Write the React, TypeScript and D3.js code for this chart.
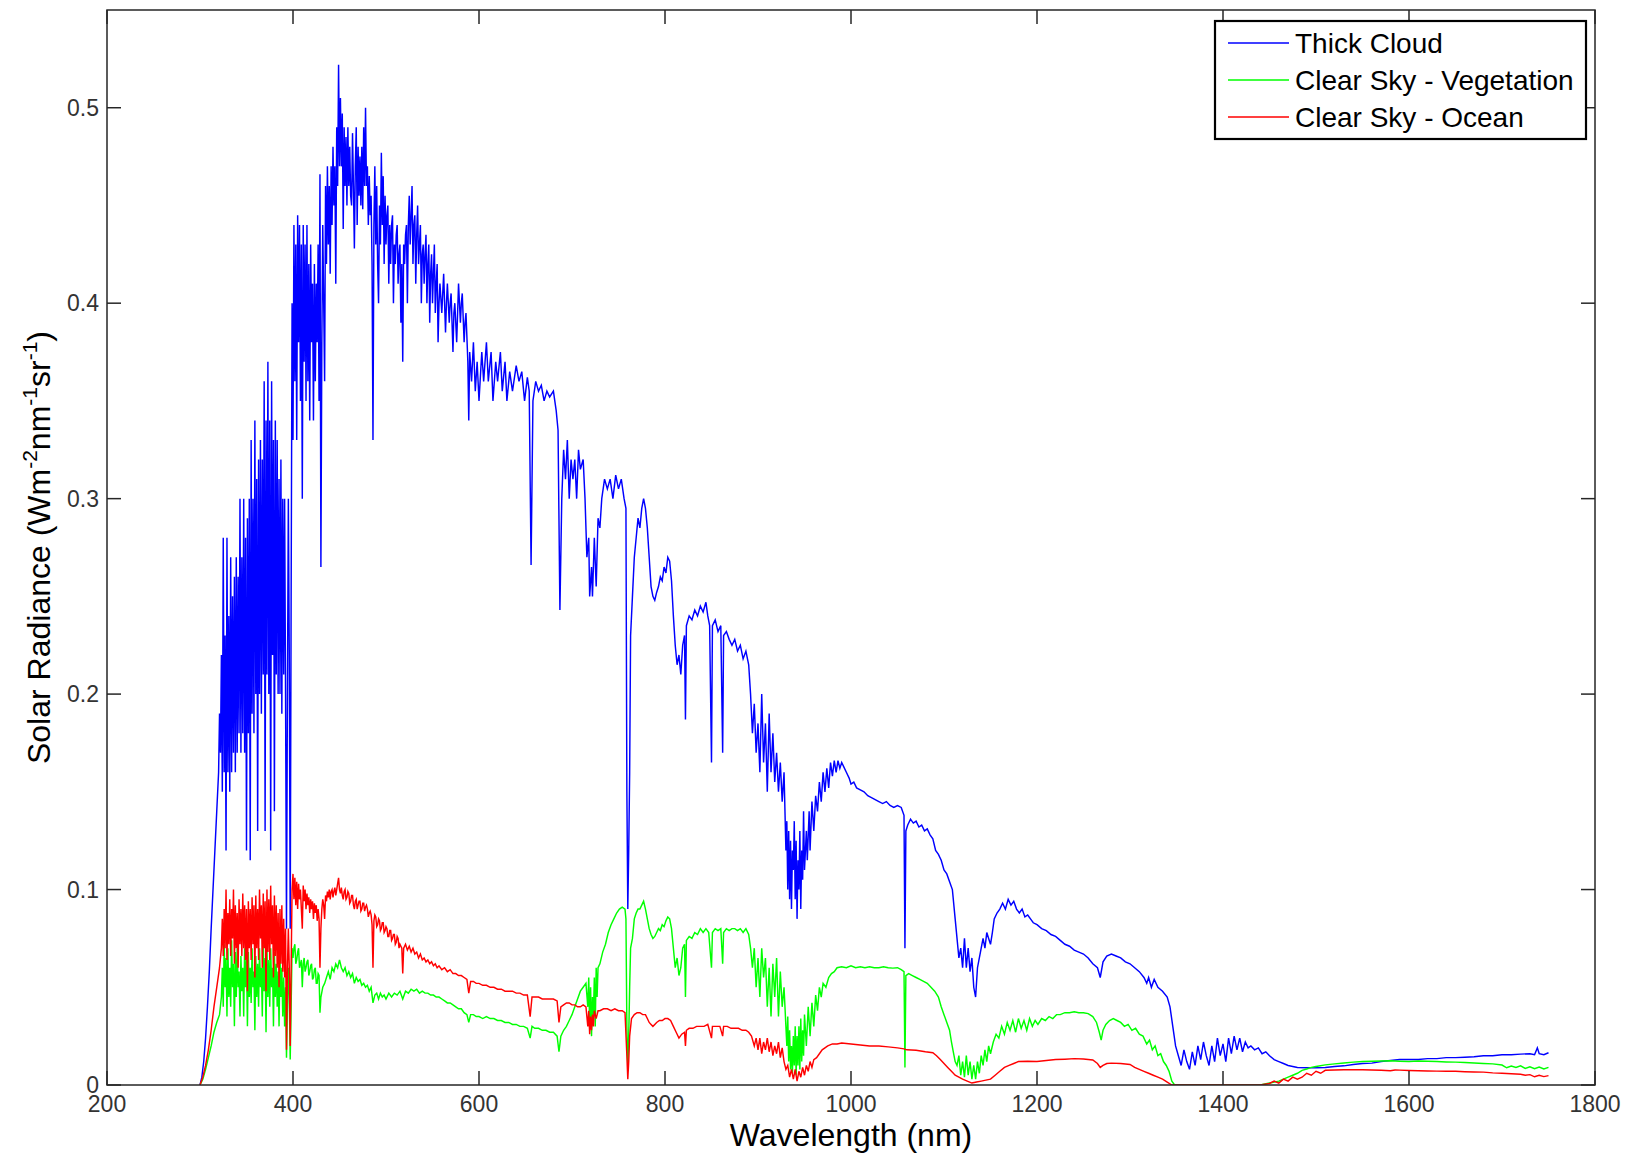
import * as d3 from 'd3';

// [wavelength nm, radiance W m^-2 nm^-1 sr^-1]
const thickCloud: [number, number][] = [
  [300, 0], [302, 0.004], [304, 0.012], [306, 0.024], [308, 0.04], [310, 0.058], [312, 0.08], [314, 0.1],
  [316, 0.12], [318, 0.14], [320, 0.16], [321, 0.19], [322, 0.17],
  [323, 0.22], [324, 0.15], [325, 0.28], [326, 0.16], [327, 0.23], [328, 0.12], [329, 0.28], [330, 0.16],
  [331, 0.24], [332, 0.15], [333, 0.27], [334, 0.16], [335, 0.25], [336, 0.17], [337, 0.26], [338, 0.16],
  [339, 0.27], [340, 0.17], [341, 0.26], [342, 0.18], [343, 0.3], [344, 0.17], [345, 0.27], [346, 0.18],
  [347, 0.3], [348, 0.17], [349, 0.28], [350, 0.12], [351, 0.29], [352, 0.18], [353, 0.3], [354, 0.115],
  [355, 0.33], [356, 0.19], [357, 0.3], [358, 0.18], [359, 0.34], [360, 0.2], [361, 0.31], [362, 0.13],
  [363, 0.32], [364, 0.2], [365, 0.33], [366, 0.19], [367, 0.32], [368, 0.21], [369, 0.36], [370, 0.13],
  [371, 0.34], [372, 0.21], [373, 0.37], [374, 0.2], [375, 0.34], [376, 0.12], [377, 0.36], [378, 0.22],
  [379, 0.33], [380, 0.14], [381, 0.34], [382, 0.21], [383, 0.33], [384, 0.2], [385, 0.31], [386, 0.2],
  [387, 0.32], [388, 0.19], [389, 0.3], [390, 0.21], [391, 0.3], [392, 0.2], [393, 0.08], [394, 0.2],
  [395, 0.3], [396, 0.22], [397, 0.08], [398, 0.25], [399, 0.4], [400, 0.33], [401, 0.44], [402, 0.36],
  [403, 0.43], [404, 0.33], [405, 0.445], [406, 0.38], [407, 0.44], [408, 0.35], [409, 0.43], [410, 0.3],
  [411, 0.44], [412, 0.37], [413, 0.43], [414, 0.35], [415, 0.44], [416, 0.36], [417, 0.42], [418, 0.34],
  [419, 0.43], [420, 0.38], [421, 0.41], [422, 0.34], [423, 0.42], [424, 0.36], [425, 0.41], [426, 0.38],
  [427, 0.43], [428, 0.35], [429, 0.466], [430, 0.265], [431, 0.38], [432, 0.44], [433, 0.4], [434, 0.36],
  [435, 0.46], [436, 0.42], [437, 0.47], [438, 0.43], [439, 0.46], [440, 0.415], [441, 0.47], [442, 0.44],
  [443, 0.48], [444, 0.45], [445, 0.47], [446, 0.41], [447, 0.49], [448, 0.46], [449, 0.522], [450, 0.47],
  [451, 0.505], [452, 0.47], [453, 0.497], [454, 0.438], [455, 0.49], [456, 0.46], [457, 0.485], [458, 0.45],
  [459, 0.49], [460, 0.46], [461, 0.48], [462, 0.455], [463, 0.45], [464, 0.487], [465, 0.46], [466, 0.428],
  [467, 0.47], [468, 0.49], [469, 0.44], [470, 0.48], [471, 0.455], [472, 0.475], [473, 0.45], [474, 0.48],
  [475, 0.448], [476, 0.49], [477, 0.46], [478, 0.5], [479, 0.46], [480, 0.47], [481, 0.44], [482, 0.465],
  [483, 0.445], [484, 0.455], [485, 0.42], [486, 0.33], [487, 0.44], [488, 0.47], [489, 0.43], [490, 0.46],
  [491, 0.42], [492, 0.4], [493, 0.45], [494, 0.43], [495, 0.477], [496, 0.44], [497, 0.465], [498, 0.42],
  [499, 0.455], [500, 0.43], [501, 0.445], [502, 0.45], [503, 0.41], [504, 0.44], [505, 0.42], [506, 0.44],
  [507, 0.445], [508, 0.4], [509, 0.43], [510, 0.42], [511, 0.435], [512, 0.44], [513, 0.41], [514, 0.425],
  [515, 0.43], [516, 0.39], [517, 0.42], [518, 0.37], [519, 0.43], [520, 0.42], [521, 0.435], [522, 0.44],
  [523, 0.4], [524, 0.44], [525, 0.455], [526, 0.43], [527, 0.445], [528, 0.46], [529, 0.42], [530, 0.44],
  [531, 0.445], [532, 0.41], [533, 0.435], [534, 0.45], [535, 0.42], [536, 0.43], [537, 0.44], [538, 0.4],
  [539, 0.425], [540, 0.43], [541, 0.41], [542, 0.425], [543, 0.435], [544, 0.4], [545, 0.42], [546, 0.43],
  [547, 0.39], [548, 0.415], [549, 0.425], [550, 0.4], [551, 0.415], [552, 0.43], [553, 0.395], [554, 0.41],
  [555, 0.42], [556, 0.38], [557, 0.4], [558, 0.41], [560, 0.395], [561, 0.405], [562, 0.415], [564, 0.385],
  [565, 0.4], [566, 0.41], [568, 0.39], [569, 0.4], [570, 0.405], [572, 0.375], [573, 0.395], [574, 0.4],
  [576, 0.38], [577, 0.395], [578, 0.41], [580, 0.39], [581, 0.4], [582, 0.405], [584, 0.38], [585, 0.39],
  [586, 0.395], [588, 0.37], [589, 0.34], [590, 0.375], [592, 0.36], [594, 0.38], [596, 0.355], [598, 0.37],
  [600, 0.35], [603, 0.375], [605, 0.36], [608, 0.38], [610, 0.36], [613, 0.375], [615, 0.35], [618, 0.37],
  [620, 0.36], [623, 0.375], [625, 0.355], [628, 0.37], [630, 0.35], [633, 0.365], [636, 0.355], [640, 0.368],
  [643, 0.36], [646, 0.365], [649, 0.35], [652, 0.362], [654, 0.355], [656, 0.266], [658, 0.35], [661, 0.36],
  [664, 0.355], [667, 0.358], [670, 0.35], [673, 0.355], [676, 0.352], [680, 0.355], [683, 0.345], [685, 0.335],
  [687, 0.243], [689, 0.3], [691, 0.325], [693, 0.31], [695, 0.33], [697, 0.3], [699, 0.32], [701, 0.31],
  [703, 0.32], [705, 0.3], [707, 0.325], [709, 0.315], [712, 0.32], [714, 0.3], [716, 0.27], [718, 0.28],
  [719, 0.25], [721, 0.265], [722, 0.25], [724, 0.28], [726, 0.255], [728, 0.29], [730, 0.285], [732, 0.3],
  [735, 0.31], [738, 0.305], [741, 0.31], [744, 0.3], [747, 0.312], [750, 0.305], [753, 0.31], [756, 0.3],
  [758, 0.295], [759, 0.15], [760, 0.09], [761, 0.12], [762, 0.16], [763, 0.23], [765, 0.25], [767, 0.27],
  [769, 0.28], [771, 0.29], [773, 0.285], [775, 0.295], [777, 0.3], [779, 0.295], [781, 0.285], [783, 0.27],
  [785, 0.255], [787, 0.25], [789, 0.248], [791, 0.252], [793, 0.255], [795, 0.26], [797, 0.258], [799, 0.265],
  [801, 0.262], [803, 0.27], [805, 0.268], [807, 0.258], [809, 0.24], [811, 0.225], [813, 0.215], [815, 0.22],
  [817, 0.21], [819, 0.225], [821, 0.23], [822, 0.187], [823, 0.235], [826, 0.24], [829, 0.238], [832, 0.243],
  [835, 0.24], [838, 0.245], [841, 0.242], [844, 0.247], [846, 0.24], [848, 0.235], [850, 0.165], [851, 0.235],
  [854, 0.238], [857, 0.232], [860, 0.235], [862, 0.17], [863, 0.23], [866, 0.232], [869, 0.228], [872, 0.225],
  [875, 0.228], [878, 0.222], [881, 0.225], [884, 0.218], [887, 0.222], [890, 0.215], [892, 0.2], [894, 0.18],
  [896, 0.195], [898, 0.17], [900, 0.185], [902, 0.16], [904, 0.2], [906, 0.165], [908, 0.185], [910, 0.15],
  [912, 0.19], [914, 0.16], [916, 0.18], [918, 0.155], [920, 0.17], [922, 0.15], [924, 0.165], [926, 0.145],
  [928, 0.16], [930, 0.12], [931, 0.135], [932, 0.1], [933, 0.13], [934, 0.095], [935, 0.125], [936, 0.09],
  [937, 0.12], [938, 0.11], [939, 0.135], [940, 0.095], [941, 0.125], [942, 0.085], [943, 0.115], [944, 0.1],
  [945, 0.13], [946, 0.09], [947, 0.12], [948, 0.105], [949, 0.14], [950, 0.11], [952, 0.13], [953, 0.115],
  [955, 0.14], [956, 0.12], [958, 0.145], [960, 0.13], [962, 0.148], [964, 0.14], [966, 0.155], [968, 0.145],
  [970, 0.16], [972, 0.15], [974, 0.162], [976, 0.152], [978, 0.165], [980, 0.158], [982, 0.166], [984, 0.16],
  [986, 0.166], [988, 0.162], [990, 0.165], [992, 0.163], [995, 0.16], [998, 0.157], [1000, 0.154],
  [1003, 0.155], [1006, 0.152], [1010, 0.151], [1014, 0.15], [1018, 0.148], [1022, 0.147], [1026, 0.146],
  [1030, 0.145], [1034, 0.144], [1038, 0.145], [1042, 0.143], [1046, 0.142], [1050, 0.143], [1054, 0.142],
  [1057, 0.138], [1058, 0.07], [1059, 0.13], [1061, 0.133], [1064, 0.136], [1067, 0.134], [1070, 0.135],
  [1073, 0.132], [1076, 0.133], [1079, 0.13], [1082, 0.131], [1085, 0.128], [1088, 0.126], [1091, 0.12],
  [1094, 0.118], [1097, 0.115], [1100, 0.11], [1103, 0.108], [1106, 0.104], [1109, 0.1], [1112, 0.085],
  [1114, 0.075], [1116, 0.065], [1118, 0.07], [1120, 0.06], [1122, 0.075], [1124, 0.06], [1126, 0.07],
  [1128, 0.058], [1130, 0.065], [1132, 0.05], [1134, 0.045], [1136, 0.06], [1138, 0.065], [1140, 0.07],
  [1142, 0.075], [1144, 0.07], [1146, 0.078], [1148, 0.075], [1150, 0.072], [1152, 0.078], [1154, 0.085],
  [1157, 0.088], [1160, 0.09], [1163, 0.093], [1166, 0.09], [1169, 0.095], [1172, 0.092], [1175, 0.094],
  [1178, 0.09], [1181, 0.088], [1184, 0.09], [1187, 0.086], [1190, 0.087], [1193, 0.085], [1196, 0.083],
  [1200, 0.082], [1205, 0.08], [1210, 0.079], [1215, 0.077], [1220, 0.076], [1225, 0.074], [1230, 0.072],
  [1235, 0.071], [1240, 0.069], [1245, 0.068], [1250, 0.067], [1255, 0.065], [1260, 0.062], [1265, 0.06],
  [1268, 0.055], [1271, 0.063], [1275, 0.066], [1280, 0.067], [1285, 0.066], [1290, 0.065], [1295, 0.063],
  [1300, 0.062], [1305, 0.06], [1310, 0.058], [1315, 0.055], [1318, 0.052], [1320, 0.055], [1323, 0.05],
  [1326, 0.054], [1330, 0.05], [1335, 0.048], [1340, 0.045], [1343, 0.04], [1346, 0.03], [1349, 0.02],
  [1352, 0.015], [1355, 0.01], [1358, 0.018], [1361, 0.012], [1364, 0.008], [1367, 0.017], [1370, 0.01],
  [1373, 0.02], [1376, 0.013], [1379, 0.022], [1382, 0.015], [1385, 0.01], [1388, 0.02], [1391, 0.012],
  [1394, 0.024], [1397, 0.015], [1400, 0.021], [1403, 0.012], [1406, 0.024], [1409, 0.016], [1412, 0.025],
  [1415, 0.018], [1418, 0.024], [1421, 0.017], [1424, 0.022], [1427, 0.019], [1430, 0.02], [1434, 0.018],
  [1438, 0.019], [1442, 0.016], [1446, 0.017], [1450, 0.015], [1455, 0.013], [1460, 0.012], [1465, 0.011],
  [1470, 0.01], [1480, 0.009], [1490, 0.0088], [1500, 0.0088], [1510, 0.009], [1520, 0.0095], [1530, 0.0098],
  [1540, 0.0105], [1550, 0.011], [1560, 0.0112], [1570, 0.012], [1580, 0.0125], [1590, 0.013], [1600, 0.013],
  [1610, 0.013], [1620, 0.0135], [1630, 0.0135], [1640, 0.014], [1650, 0.014], [1660, 0.0142], [1670, 0.0145],
  [1680, 0.015], [1690, 0.015], [1700, 0.0155], [1710, 0.0155], [1720, 0.0158], [1730, 0.016], [1735, 0.0155],
  [1738, 0.019], [1740, 0.016], [1745, 0.0155], [1750, 0.0165],
];

const vegetation: [number, number][] = [
  [300, 0], [303, 0.003], [306, 0.008], [309, 0.014], [312, 0.02], [315, 0.027], [318, 0.032], [321, 0.036],
  [323, 0.045], [324, 0.06], [325, 0.04], [326, 0.072], [327, 0.05], [328, 0.065], [329, 0.035], [330, 0.07],
  [331, 0.045], [332, 0.06], [333, 0.04], [334, 0.074], [335, 0.05], [336, 0.062], [337, 0.03], [338, 0.068],
  [339, 0.045], [340, 0.07], [341, 0.05], [342, 0.058], [343, 0.035], [344, 0.066], [345, 0.048], [346, 0.06],
  [347, 0.035], [348, 0.07], [349, 0.05], [350, 0.064], [351, 0.03], [352, 0.068], [353, 0.045], [354, 0.06],
  [355, 0.042], [356, 0.07], [357, 0.05], [358, 0.058], [359, 0.028], [360, 0.066], [361, 0.045], [362, 0.062],
  [363, 0.04], [364, 0.07], [365, 0.05], [366, 0.06], [367, 0.035], [368, 0.072], [369, 0.048], [370, 0.065],
  [371, 0.027], [372, 0.07], [373, 0.045], [374, 0.064], [375, 0.04], [376, 0.07], [377, 0.05], [378, 0.06],
  [379, 0.03], [380, 0.068], [381, 0.045], [382, 0.062], [383, 0.04], [384, 0.058], [385, 0.03], [386, 0.066],
  [387, 0.045], [388, 0.06], [389, 0.035], [390, 0.055], [391, 0.03], [392, 0.05], [393, 0.014], [394, 0.04],
  [395, 0.06], [396, 0.045], [397, 0.013], [398, 0.04], [399, 0.07], [400, 0.065], [401, 0.07], [402, 0.072],
  [403, 0.062], [404, 0.064], [405, 0.068], [406, 0.07], [407, 0.06], [408, 0.062], [409, 0.064], [410, 0.05],
  [411, 0.062], [412, 0.065], [413, 0.058], [414, 0.06], [415, 0.063], [416, 0.064], [417, 0.056], [418, 0.058],
  [419, 0.061], [420, 0.062], [421, 0.054], [422, 0.055], [423, 0.059], [424, 0.06], [425, 0.052], [426, 0.052],
  [427, 0.057], [428, 0.056], [429, 0.037], [430, 0.045], [432, 0.05], [434, 0.052], [436, 0.055], [438, 0.058],
  [440, 0.054], [442, 0.06], [444, 0.058], [446, 0.062], [448, 0.06], [450, 0.064], [452, 0.06], [454, 0.058],
  [456, 0.06], [458, 0.056], [460, 0.058], [462, 0.055], [464, 0.057], [466, 0.052], [468, 0.055], [470, 0.053],
  [472, 0.054], [474, 0.051], [476, 0.052], [478, 0.05], [480, 0.051], [482, 0.048], [484, 0.05], [486, 0.042],
  [488, 0.046], [490, 0.047], [492, 0.044], [494, 0.047], [496, 0.045], [498, 0.046], [500, 0.044], [503, 0.047],
  [506, 0.045], [509, 0.047], [512, 0.046], [515, 0.048], [518, 0.044], [521, 0.048], [524, 0.047], [527, 0.049],
  [530, 0.048], [533, 0.049], [536, 0.047], [539, 0.048], [542, 0.047], [545, 0.047], [548, 0.046], [551, 0.046],
  [554, 0.045], [557, 0.045], [560, 0.044], [563, 0.043], [566, 0.042], [569, 0.042], [572, 0.041], [575, 0.04],
  [578, 0.039], [581, 0.039], [584, 0.037], [587, 0.036], [589, 0.032], [591, 0.036], [594, 0.036], [597, 0.035],
  [600, 0.035], [604, 0.034], [608, 0.035], [612, 0.034], [616, 0.034], [620, 0.033], [624, 0.033], [628, 0.032],
  [632, 0.032], [636, 0.031], [640, 0.031], [644, 0.03], [648, 0.03], [652, 0.029], [655, 0.024], [657, 0.03],
  [660, 0.029], [664, 0.029], [668, 0.028], [672, 0.028], [676, 0.027], [680, 0.027], [684, 0.025], [686, 0.017],
  [688, 0.025], [691, 0.028], [694, 0.03], [697, 0.033], [700, 0.036], [703, 0.04], [706, 0.044], [709, 0.048],
  [712, 0.05], [715, 0.052], [717, 0.04], [718, 0.055], [719, 0.03], [720, 0.05], [721, 0.025], [722, 0.045],
  [723, 0.035], [724, 0.055], [725, 0.03], [726, 0.06], [727, 0.045], [728, 0.06], [730, 0.062], [733, 0.068],
  [736, 0.072], [739, 0.078], [742, 0.082], [745, 0.085], [748, 0.088], [751, 0.09], [754, 0.091], [757, 0.09],
  [758, 0.085], [759, 0.03], [760, 0.01], [761, 0.025], [762, 0.05], [763, 0.07], [765, 0.075], [767, 0.085],
  [769, 0.088], [771, 0.09], [773, 0.09], [775, 0.092], [777, 0.094], [779, 0.09], [781, 0.085], [783, 0.08],
  [785, 0.077], [787, 0.075], [789, 0.076], [791, 0.078], [793, 0.08], [795, 0.079], [797, 0.082], [799, 0.081],
  [801, 0.084], [803, 0.086], [805, 0.085], [807, 0.08], [809, 0.07], [811, 0.06], [813, 0.065], [815, 0.056],
  [817, 0.06], [819, 0.07], [821, 0.072], [822, 0.045], [823, 0.074], [826, 0.076], [829, 0.075], [832, 0.078],
  [835, 0.077], [838, 0.08], [841, 0.078], [844, 0.08], [847, 0.078], [850, 0.06], [851, 0.078], [854, 0.08],
  [857, 0.079], [860, 0.08], [862, 0.062], [863, 0.078], [866, 0.08], [869, 0.079], [872, 0.08], [875, 0.08],
  [878, 0.079], [881, 0.08], [884, 0.078], [887, 0.08], [890, 0.077], [892, 0.07], [894, 0.06], [896, 0.07],
  [898, 0.05], [900, 0.065], [902, 0.045], [904, 0.07], [906, 0.055], [908, 0.065], [910, 0.04], [912, 0.06],
  [914, 0.035], [916, 0.062], [918, 0.045], [920, 0.065], [922, 0.035], [924, 0.058], [926, 0.04], [928, 0.05],
  [930, 0.03], [931, 0.02], [932, 0.035], [933, 0.012], [934, 0.028], [935, 0.008], [936, 0.02], [937, 0.006],
  [938, 0.025], [939, 0.01], [940, 0.03], [941, 0.005], [942, 0.025], [943, 0.01], [944, 0.03], [945, 0.008],
  [946, 0.034], [947, 0.012], [948, 0.028], [949, 0.015], [950, 0.036], [952, 0.02], [954, 0.04], [956, 0.025],
  [958, 0.042], [960, 0.03], [962, 0.046], [964, 0.038], [966, 0.05], [968, 0.045], [970, 0.052], [973, 0.05],
  [976, 0.055], [979, 0.057], [982, 0.058], [985, 0.06], [990, 0.0605], [995, 0.06], [1000, 0.061],
  [1005, 0.06], [1010, 0.0605], [1015, 0.06], [1020, 0.0605], [1025, 0.06], [1030, 0.06], [1035, 0.0605],
  [1040, 0.06], [1045, 0.0598], [1050, 0.06], [1054, 0.059], [1057, 0.058], [1058, 0.009], [1059, 0.056],
  [1062, 0.057], [1066, 0.056], [1070, 0.055], [1074, 0.054], [1078, 0.053], [1082, 0.052], [1086, 0.05],
  [1090, 0.048], [1094, 0.045], [1097, 0.04], [1100, 0.036], [1103, 0.032], [1106, 0.028], [1108, 0.022],
  [1110, 0.017], [1112, 0.012], [1114, 0.01], [1116, 0.015], [1118, 0.005], [1120, 0.012], [1122, 0.004],
  [1124, 0.015], [1126, 0.005], [1128, 0.012], [1130, 0.003], [1132, 0.01], [1134, 0.003], [1136, 0.012],
  [1138, 0.006], [1140, 0.015], [1142, 0.01], [1144, 0.018], [1146, 0.012], [1148, 0.02], [1150, 0.016],
  [1153, 0.022], [1156, 0.026], [1159, 0.024], [1162, 0.03], [1165, 0.026], [1168, 0.032], [1171, 0.028],
  [1174, 0.033], [1177, 0.027], [1180, 0.034], [1183, 0.029], [1186, 0.033], [1189, 0.028], [1192, 0.034],
  [1195, 0.03], [1198, 0.033], [1201, 0.031], [1205, 0.034], [1209, 0.033], [1213, 0.035], [1217, 0.034],
  [1221, 0.036], [1225, 0.036], [1230, 0.037], [1235, 0.037], [1240, 0.0375], [1245, 0.037], [1250, 0.037],
  [1255, 0.0365], [1260, 0.035], [1264, 0.032], [1267, 0.027], [1269, 0.023], [1271, 0.028], [1274, 0.031],
  [1278, 0.033], [1282, 0.034], [1286, 0.033], [1290, 0.032], [1294, 0.03], [1298, 0.031], [1302, 0.028],
  [1306, 0.029], [1310, 0.026], [1314, 0.025], [1318, 0.021], [1321, 0.023], [1324, 0.018], [1327, 0.02],
  [1330, 0.015], [1333, 0.016], [1336, 0.012], [1339, 0.01], [1342, 0.007], [1345, 0.002], [1348, 0],
  [1440, 0], [1450, 0.001], [1460, 0.002], [1465, 0.003], [1470, 0.004], [1475, 0.005], [1480, 0.006],
  [1485, 0.0075], [1490, 0.0082], [1495, 0.009], [1500, 0.0095], [1510, 0.0103], [1520, 0.0108], [1530, 0.0113],
  [1540, 0.0117], [1550, 0.012], [1560, 0.0122], [1570, 0.0123], [1580, 0.0124], [1590, 0.0122], [1600, 0.012],
  [1610, 0.0123], [1620, 0.0122], [1630, 0.012], [1640, 0.0118], [1650, 0.0117], [1660, 0.0115], [1670, 0.0113],
  [1680, 0.011], [1690, 0.0108], [1700, 0.0102], [1705, 0.0088], [1710, 0.0097], [1715, 0.009], [1720, 0.0098],
  [1725, 0.0085], [1730, 0.0093], [1735, 0.0083], [1740, 0.0092], [1745, 0.0082], [1750, 0.009],
];

const ocean: [number, number][] = [
  [300, 0], [303, 0.004], [306, 0.01], [309, 0.018], [312, 0.028], [315, 0.04], [318, 0.05], [321, 0.06],
  [323, 0.07], [324, 0.085], [325, 0.066], [326, 0.09], [327, 0.07], [328, 0.1], [329, 0.064], [330, 0.088],
  [331, 0.072], [332, 0.095], [333, 0.066], [334, 0.09], [335, 0.075], [336, 0.1], [337, 0.062], [338, 0.092],
  [339, 0.07], [340, 0.088], [341, 0.06], [342, 0.095], [343, 0.072], [344, 0.09], [345, 0.066], [346, 0.098],
  [347, 0.07], [348, 0.092], [349, 0.064], [350, 0.09], [351, 0.048], [352, 0.094], [353, 0.07], [354, 0.09],
  [355, 0.064], [356, 0.096], [357, 0.072], [358, 0.092], [359, 0.055], [360, 0.097], [361, 0.07], [362, 0.09],
  [363, 0.064], [364, 0.1], [365, 0.075], [366, 0.092], [367, 0.06], [368, 0.098], [369, 0.07], [370, 0.094],
  [371, 0.048], [372, 0.1], [373, 0.068], [374, 0.095], [375, 0.064], [376, 0.102], [377, 0.072], [378, 0.092],
  [379, 0.055], [380, 0.097], [381, 0.066], [382, 0.092], [383, 0.06], [384, 0.088], [385, 0.05], [386, 0.09],
  [387, 0.062], [388, 0.092], [389, 0.058], [390, 0.085], [391, 0.055], [392, 0.08], [393, 0.018], [394, 0.06],
  [395, 0.08], [396, 0.06], [397, 0.02], [398, 0.06], [399, 0.1], [400, 0.108], [401, 0.095], [402, 0.106],
  [403, 0.092], [404, 0.104], [405, 0.09], [406, 0.103], [407, 0.095], [408, 0.1], [409, 0.09], [410, 0.08],
  [411, 0.102], [412, 0.094], [413, 0.1], [414, 0.09], [415, 0.098], [416, 0.092], [417, 0.096], [418, 0.088],
  [419, 0.095], [420, 0.09], [421, 0.094], [422, 0.085], [423, 0.093], [424, 0.088], [425, 0.092], [426, 0.084],
  [427, 0.09], [428, 0.085], [429, 0.06], [430, 0.08], [431, 0.09], [432, 0.095], [433, 0.092], [434, 0.085],
  [435, 0.097], [436, 0.094], [437, 0.099], [438, 0.096], [439, 0.1], [440, 0.095], [441, 0.099], [442, 0.1],
  [443, 0.096], [444, 0.099], [445, 0.101], [446, 0.097], [447, 0.1], [448, 0.103], [449, 0.106], [450, 0.1],
  [451, 0.098], [452, 0.101], [453, 0.097], [454, 0.095], [455, 0.099], [456, 0.1], [457, 0.095], [458, 0.096],
  [459, 0.099], [460, 0.098], [461, 0.093], [462, 0.094], [463, 0.097], [464, 0.097], [465, 0.092], [466, 0.09],
  [467, 0.094], [468, 0.095], [469, 0.09], [470, 0.092], [471, 0.094], [472, 0.094], [473, 0.089], [474, 0.09],
  [475, 0.093], [476, 0.093], [477, 0.089], [478, 0.091], [479, 0.092], [480, 0.09], [481, 0.086], [482, 0.088],
  [483, 0.089], [484, 0.087], [485, 0.082], [486, 0.06], [487, 0.084], [488, 0.087], [489, 0.086], [490, 0.081],
  [491, 0.082], [492, 0.085], [493, 0.084], [494, 0.079], [495, 0.08], [496, 0.083], [497, 0.083], [498, 0.078],
  [499, 0.079], [500, 0.081], [501, 0.08], [502, 0.076], [503, 0.076], [504, 0.079], [505, 0.079], [506, 0.074],
  [507, 0.075], [508, 0.077], [509, 0.077], [510, 0.072], [511, 0.073], [512, 0.076], [513, 0.075], [514, 0.07],
  [515, 0.072], [516, 0.071], [517, 0.07], [518, 0.057], [519, 0.07], [521, 0.072], [523, 0.069], [525, 0.071],
  [527, 0.068], [529, 0.07], [531, 0.067], [533, 0.068], [535, 0.065], [537, 0.067], [539, 0.064], [541, 0.065],
  [543, 0.063], [545, 0.064], [547, 0.062], [549, 0.063], [551, 0.061], [553, 0.062], [555, 0.06], [557, 0.061],
  [560, 0.059], [563, 0.06], [566, 0.058], [569, 0.059], [572, 0.057], [575, 0.057], [578, 0.056], [581, 0.056],
  [584, 0.055], [587, 0.054], [589, 0.047], [591, 0.053], [594, 0.053], [597, 0.052], [600, 0.052], [604, 0.051],
  [608, 0.051], [612, 0.05], [616, 0.05], [620, 0.049], [624, 0.049], [628, 0.048], [632, 0.048], [636, 0.048],
  [640, 0.047], [644, 0.047], [648, 0.046], [652, 0.046], [655, 0.035], [657, 0.045], [660, 0.045], [664, 0.045],
  [668, 0.044], [672, 0.044], [676, 0.044], [680, 0.044], [684, 0.043], [686, 0.032], [688, 0.04], [691, 0.041],
  [694, 0.042], [697, 0.042], [700, 0.041], [703, 0.041], [706, 0.04], [709, 0.04], [712, 0.041], [715, 0.04],
  [717, 0.03], [718, 0.038], [719, 0.026], [720, 0.035], [721, 0.028], [722, 0.036], [723, 0.03], [724, 0.038],
  [726, 0.034], [728, 0.038], [730, 0.038], [734, 0.039], [738, 0.039], [742, 0.038], [746, 0.039], [750, 0.038],
  [754, 0.038], [757, 0.037], [759, 0.015], [760, 0.003], [761, 0.012], [762, 0.025], [764, 0.034], [767, 0.036],
  [770, 0.037], [773, 0.037], [776, 0.036], [779, 0.036], [781, 0.034], [783, 0.032], [785, 0.031], [787, 0.03],
  [789, 0.031], [791, 0.032], [794, 0.033], [797, 0.033], [800, 0.034], [803, 0.034], [806, 0.033], [809, 0.03],
  [812, 0.027], [815, 0.024], [818, 0.026], [821, 0.027], [822, 0.02], [823, 0.028], [826, 0.029], [830, 0.029],
  [834, 0.03], [838, 0.03], [842, 0.03], [846, 0.031], [850, 0.024], [851, 0.03], [855, 0.03], [859, 0.03],
  [862, 0.025], [863, 0.03], [867, 0.03], [871, 0.029], [875, 0.029], [879, 0.029], [883, 0.028], [887, 0.028],
  [890, 0.027], [893, 0.025], [896, 0.02], [898, 0.024], [900, 0.018], [902, 0.024], [904, 0.016], [906, 0.022],
  [908, 0.018], [910, 0.024], [912, 0.017], [914, 0.022], [916, 0.015], [918, 0.02], [920, 0.016], [922, 0.022],
  [924, 0.014], [926, 0.019], [928, 0.012], [930, 0.008], [932, 0.01], [934, 0.004], [936, 0.008], [938, 0.003],
  [940, 0.008], [942, 0.002], [944, 0.007], [946, 0.004], [948, 0.009], [950, 0.005], [952, 0.01], [954, 0.007],
  [956, 0.012], [958, 0.009], [960, 0.013], [963, 0.014], [966, 0.016], [969, 0.018], [972, 0.019], [975, 0.02],
  [980, 0.021], [985, 0.021], [990, 0.0215], [1000, 0.021], [1010, 0.0205], [1020, 0.02], [1030, 0.02],
  [1040, 0.0195], [1050, 0.019], [1057, 0.0185], [1060, 0.018], [1070, 0.0178], [1080, 0.017], [1088, 0.0165],
  [1092, 0.015], [1096, 0.013], [1100, 0.011], [1104, 0.009], [1108, 0.007], [1112, 0.005], [1116, 0.004],
  [1120, 0.003], [1125, 0.002], [1130, 0.001], [1135, 0.0015], [1140, 0.002], [1145, 0.0025], [1150, 0.003],
  [1155, 0.005], [1160, 0.007], [1165, 0.009], [1170, 0.01], [1175, 0.011], [1180, 0.012], [1190, 0.0122],
  [1200, 0.012], [1210, 0.0125], [1220, 0.013], [1230, 0.0132], [1240, 0.0135], [1250, 0.0133], [1260, 0.0128],
  [1265, 0.011], [1268, 0.009], [1271, 0.01], [1275, 0.011], [1280, 0.0112], [1290, 0.011], [1300, 0.0105],
  [1305, 0.009], [1310, 0.008], [1315, 0.007], [1320, 0.006], [1325, 0.005], [1330, 0.004], [1335, 0.003],
  [1340, 0.0015], [1345, 0], [1440, 0], [1450, 0.0008], [1455, 0.002], [1460, 0.001], [1465, 0.003],
  [1470, 0.002], [1475, 0.004], [1480, 0.003], [1485, 0.004], [1490, 0.006], [1495, 0.005], [1500, 0.007],
  [1505, 0.006], [1510, 0.0075], [1520, 0.0077], [1530, 0.0078], [1540, 0.0078], [1550, 0.0078], [1560, 0.0077],
  [1570, 0.0075], [1580, 0.0073], [1585, 0.0077], [1590, 0.0076], [1600, 0.0074], [1610, 0.0073], [1620, 0.0072],
  [1630, 0.0071], [1640, 0.007], [1650, 0.007], [1660, 0.0068], [1670, 0.0067], [1680, 0.0066], [1690, 0.0062],
  [1700, 0.006], [1710, 0.0058], [1720, 0.0055], [1725, 0.005], [1730, 0.0053], [1735, 0.0042], [1740, 0.005],
  [1745, 0.0043], [1750, 0.0048],
];

const seriesNames = ['Thick Cloud', 'Clear Sky - Vegetation', 'Clear Sky - Ocean'];
const seriesColors = ['#0000ff', '#00ff00', '#ff0000'];
const xTicks = [200, 400, 600, 800, 1000, 1200, 1400, 1600, 1800];
const yTicks = [0, 0.1, 0.2, 0.3, 0.4, 0.5];

const W = 1625;
const H = 1157;
const font = "'Liberation Sans', Arial, Helvetica, sans-serif";

export default function App() {
  const left = 107;
  const right = 1595;
  const top = 10;
  const bottom = 1085;
  const tickLen = 14;

  const x = d3.scaleLinear().domain([200, 1800]).range([left, right]);
  const y = d3.scaleLinear().domain([0, 0.55]).range([bottom, top]);
  const line = d3
    .line<[number, number]>()
    .x((d) => x(d[0]))
    .y((d) => y(d[1]));

  const series = [thickCloud, vegetation, ocean];

  return (
    <svg
      width={W}
      height={H}
      viewBox={`0 0 ${W} ${H}`}
      style={{ position: 'absolute', left: 0, top: 0, display: 'block', background: '#fff' }}
    >
      <rect x={0} y={0} width={W} height={H} fill='#fff' />
      <defs>
        <clipPath id='plotArea'>
          <rect x={left} y={top} width={right - left} height={bottom - top} />
        </clipPath>
      </defs>

      {/* spectra, plotted in MATLAB order so red sits on top */}
      <g clipPath='url(#plotArea)'>
        {series.map((s, i) => (
          <path
            key={seriesNames[i]}
            d={line(s) ?? ''}
            fill='none'
            stroke={seriesColors[i]}
            strokeWidth={1.45}
            strokeLinejoin='miter'
          />
        ))}
      </g>

      {/* box and inward ticks on all four sides */}
      <g stroke='#262626' strokeWidth={1.5} fill='none'>
        <rect x={left} y={top} width={right - left} height={bottom - top} />
        {xTicks.map((t) => (
          <g key={'xt' + t}>
            <line x1={x(t)} x2={x(t)} y1={bottom} y2={bottom - tickLen} />
            <line x1={x(t)} x2={x(t)} y1={top} y2={top + tickLen} />
          </g>
        ))}
        {yTicks.map((t) => (
          <g key={'yt' + t}>
            <line x1={left} x2={left + tickLen} y1={y(t)} y2={y(t)} />
            <line x1={right} x2={right - tickLen} y1={y(t)} y2={y(t)} />
          </g>
        ))}
      </g>

      <g fontFamily={font} fontSize={23} fill='#333'>
        {xTicks.map((t) => (
          <text key={'xl' + t} x={x(t)} y={1112} textAnchor='middle'>
            {t}
          </text>
        ))}
        {yTicks.map((t) => (
          <text key={'yl' + t} x={left - 8} y={y(t) + 8} textAnchor='end'>
            {t === 0 ? '0' : d3.format('.1f')(t)}
          </text>
        ))}
      </g>

      <text x={(left + right) / 2} y={1146} textAnchor='middle' fontFamily={font} fontSize={32} fill='#000'>
        Wavelength (nm)
      </text>

      <text
        transform={`translate(50,${(top + bottom) / 2}) rotate(-90)`}
        textAnchor='middle'
        fontFamily={font}
        fontSize={32}
        fill='#000'
      >
        Solar Radiance (Wm
        <tspan fontSize={21} dy={-13}>-2</tspan>
        <tspan dy={13}>nm</tspan>
        <tspan fontSize={21} dy={-13}>-1</tspan>
        <tspan dy={13}>sr</tspan>
        <tspan fontSize={21} dy={-13}>-1</tspan>
        <tspan dy={13}>)</tspan>
      </text>

      {/* legend */}
      <g fontFamily={font} fontSize={28}>
        <rect x={1215} y={21} width={371} height={118} fill='#fff' stroke='#000' strokeWidth={2.2} />
        {seriesNames.map((name, i) => {
          const ly = 43 + i * 37;
          return (
            <g key={name}>
              <line x1={1228} x2={1289} y1={ly} y2={ly} stroke={seriesColors[i]} strokeWidth={1.45} />
              <text x={1295} y={ly + 10} fill='#000'>
                {name}
              </text>
            </g>
          );
        })}
      </g>
    </svg>
  );
}
